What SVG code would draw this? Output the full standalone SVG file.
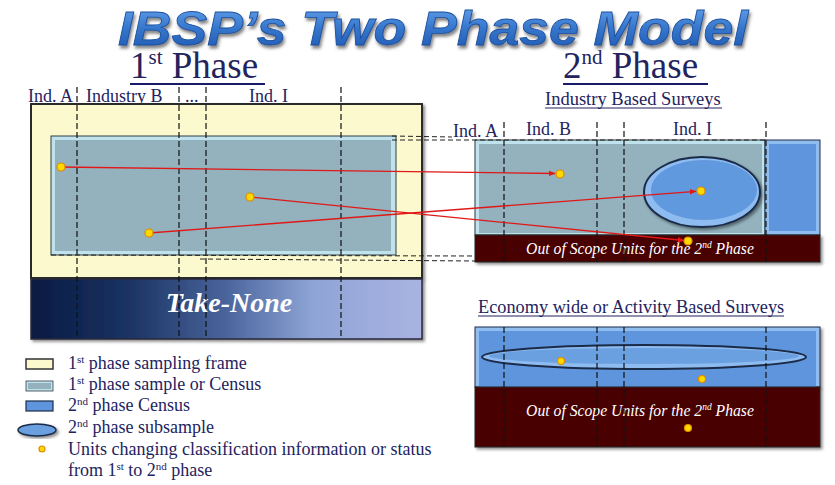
<svg xmlns="http://www.w3.org/2000/svg" width="835" height="485" viewBox="0 0 835 485">
<defs>
<linearGradient id="tg" x1="0" y1="0" x2="0" y2="1">
<stop offset="0" stop-color="#6aa6ee"/>
<stop offset="0.5" stop-color="#3576cc"/>
<stop offset="1" stop-color="#1d56ae"/>
</linearGradient>
<linearGradient id="tn" x1="0" y1="0" x2="1" y2="0">
<stop offset="0" stop-color="#071a42"/>
<stop offset="0.25" stop-color="#1b3363"/>
<stop offset="0.5" stop-color="#4a659c"/>
<stop offset="0.72" stop-color="#8ea4d6"/>
<stop offset="1" stop-color="#a9b3e2"/>
</linearGradient>
<filter id="sh" x="-10%" y="-10%" width="130%" height="130%">
<feDropShadow dx="2" dy="2" stdDeviation="1.5" flood-color="#000" flood-opacity="0.45"/>
</filter>
<filter id="tsh" x="-5%" y="-10%" width="110%" height="140%">
<feDropShadow dx="1.5" dy="3" stdDeviation="1.5" flood-color="#333" flood-opacity="0.6"/>
</filter>
<marker id="ah" viewBox="0 0 10 10" refX="9" refY="5" markerWidth="7" markerHeight="7" orient="auto" markerUnits="userSpaceOnUse">
<path d="M0,1 L10,5 L0,9 z" fill="#e01818"/>
</marker>
<style>
.lbl{font-family:"Liberation Serif","Times New Roman",serif;fill:#23235e;}
.oos{font-family:"Liberation Serif","Times New Roman",serif;font-style:italic;fill:#ffffff;}
.vd{stroke:#111;stroke-width:1.2;stroke-dasharray:6 3;fill:none;}
.hd{stroke:#222;stroke-width:1;stroke-dasharray:5 3;fill:none;}
.dot{fill:#ffd800;stroke:#e08a00;stroke-width:1.2;}
.arr{stroke:#e01818;stroke-width:1.3;fill:none;marker-end:url(#ah);}
.gb-o{fill:#bfe2ec;stroke:#2e3e44;stroke-width:1;}
.gb-i{fill:#93b2bd;}
.bl-o{fill:#90bdf0;stroke:#1e2e4a;stroke-width:1;}
.bl-i{fill:#5e95dc;}
.mar{fill:#4a0202;stroke:#222;stroke-width:1;}
</style>
</defs>
<rect width="835" height="485" fill="#ffffff"/>

<g id="title">
<text x="433" y="45" text-anchor="middle" font-family="Liberation Sans, Arial, sans-serif" font-weight="bold" font-style="italic" font-size="48" textLength="630" lengthAdjust="spacingAndGlyphs" fill="url(#tg)" stroke="#1b4f9e" stroke-width="0.8" filter="url(#tsh)">IBSP’s Two Phase Model</text>
</g>

<g id="phase1-heading">
<text class="lbl" x="130" y="78" font-size="37">1<tspan font-size="21" dy="-14">st</tspan><tspan dy="14"> Phase</tspan></text>
<line x1="130" y1="84" x2="265" y2="84" stroke="#1a1a6a" stroke-width="2"/>
</g>
<g id="phase2-heading">
<text class="lbl" x="563" y="78" font-size="37">2<tspan font-size="21" dy="-14">nd</tspan><tspan dy="14"> Phase</tspan></text>
<line x1="563" y1="84" x2="708" y2="84" stroke="#1a1a6a" stroke-width="2"/>
</g>

<g id="left-industry-labels" class="lbl" font-size="18">
<text x="28" y="102">Ind. A</text>
<text x="86" y="102">Industry B</text>
<text x="185" y="102">...</text>
<text x="249" y="102">Ind. I</text>
</g>

<g id="sampling-frame">
<rect x="31" y="104" width="391" height="174" fill="#fbf9cd" stroke="#2a2a2a" stroke-width="2" filter="url(#sh)"/>
</g>
<g id="take-none">
<rect x="31" y="279" width="391" height="60" fill="url(#tn)" stroke="#2a2a3a" stroke-width="1.5" filter="url(#sh)"/>
<text x="229" y="312" text-anchor="middle" font-family="Liberation Serif, Times New Roman, serif" font-weight="bold" font-style="italic" font-size="28" fill="#ffffff">Take-None</text>
</g>
<g id="phase1-sample">
<rect class="gb-o" x="51" y="136" width="345" height="119"/>
<rect class="gb-i" x="55" y="140" width="336" height="111"/>
</g>

<g id="industry-based">
<rect class="gb-o" x="475" y="140" width="290" height="95" filter="url(#sh)"/>
<rect class="gb-i" x="479" y="144" width="283" height="89"/>
<rect class="bl-o" x="765" y="140" width="55" height="95"/>
<rect class="bl-i" x="769" y="144" width="47" height="87"/>
<ellipse cx="702" cy="192" rx="58" ry="35" fill="#8fbcf0" stroke="#1b2b48" stroke-width="2" filter="url(#sh)"/>
<ellipse cx="704" cy="190" rx="53" ry="30" fill="#6199de"/>
<rect class="mar" x="475" y="235" width="345" height="27" filter="url(#sh)"/>
<text class="oos" x="640" y="254" text-anchor="middle" font-size="15.7">Out of Scope Units for the 2<tspan font-size="9.5" dy="-6">nd</tspan><tspan dy="6"> Phase</tspan></text>
</g>
<g id="industry-based-heading">
<text class="lbl" x="545" y="105" font-size="18.5">Industry Based Surveys</text>
<line x1="545" y1="108" x2="722" y2="108" stroke="#23235e" stroke-width="1"/>
</g>
<g id="right-industry-labels" class="lbl" font-size="18">
<text x="453" y="137">Ind. A</text>
<text x="526" y="135">Ind. B</text>
<text x="673" y="135">Ind. I</text>
</g>

<g id="activity-based">
<rect class="bl-o" x="475" y="327" width="345" height="60" filter="url(#sh)"/>
<rect class="bl-i" x="479" y="331" width="337" height="56"/>
<ellipse cx="644" cy="357" rx="162" ry="12" fill="#8fbcf0" stroke="#1b2b48" stroke-width="2"/>
<ellipse cx="644" cy="356" rx="155" ry="8" fill="#6a9fe0"/>
<rect class="mar" x="475" y="387" width="345" height="60" filter="url(#sh)"/>
<text class="oos" x="640" y="416" text-anchor="middle" font-size="15.7">Out of Scope Units for the 2<tspan font-size="9.5" dy="-6">nd</tspan><tspan dy="6"> Phase</tspan></text>
</g>
<g id="activity-based-heading">
<text class="lbl" x="478" y="313" font-size="18.3">Economy wide or Activity Based Surveys</text>
<line x1="478" y1="316" x2="784" y2="316" stroke="#23235e" stroke-width="1"/>
</g>

<g id="connectors">
<line class="vd" x1="77" y1="87" x2="77" y2="339"/>
<line class="vd" x1="179" y1="87" x2="179" y2="339"/>
<line class="vd" x1="206" y1="87" x2="206" y2="339"/>
<line class="vd" x1="341" y1="87" x2="341" y2="339"/>
<line class="vd" x1="504" y1="122" x2="504" y2="262"/>
<line class="vd" x1="597" y1="122" x2="597" y2="262"/>
<line class="vd" x1="624" y1="122" x2="624" y2="262"/>
<line class="vd" x1="766" y1="122" x2="766" y2="262"/>
<line class="vd" x1="504" y1="327" x2="504" y2="447"/>
<line class="vd" x1="597" y1="327" x2="597" y2="447"/>
<line class="vd" x1="624" y1="327" x2="624" y2="447"/>
<line class="vd" x1="766" y1="327" x2="766" y2="447"/>
<line class="hd" x1="392" y1="136" x2="452" y2="137"/>
<line class="hd" x1="392" y1="140" x2="765" y2="140"/>
<line class="hd" x1="51" y1="255" x2="475" y2="256"/>
<line class="hd" x1="200" y1="259" x2="475" y2="261"/>
<line class="arr" x1="61" y1="167" x2="555" y2="173.5"/>
<line class="arr" x1="250" y1="197" x2="684" y2="240.5"/>
<line class="arr" x1="149" y1="233" x2="696" y2="191.3"/>
</g>

<g id="units">
<circle class="dot" cx="61" cy="167" r="4"/>
<circle class="dot" cx="250" cy="197" r="4"/>
<circle class="dot" cx="149" cy="233" r="4"/>
<circle class="dot" cx="560" cy="174" r="4"/>
<circle class="dot" cx="701" cy="191" r="4"/>
<circle class="dot" cx="688" cy="241" r="4"/>
<circle class="dot" cx="561" cy="361" r="3.5"/>
<circle class="dot" cx="702" cy="379" r="3.5"/>
<circle class="dot" cx="688" cy="428" r="3.5"/>
</g>

<g id="legend">
<rect x="26" y="359" width="27" height="10" fill="#fbf9cd" stroke="#333" stroke-width="1.5"/>
<text class="lbl" x="68" y="369" font-size="18">1<tspan font-size="11" dy="-6">st</tspan><tspan dy="6"> phase sampling frame</tspan></text>
<rect x="26" y="381" width="27" height="10" fill="#bfe2ec" stroke="#2e3e44" stroke-width="0.8"/>
<rect x="28" y="383" width="23" height="6" fill="#93b2bd"/>
<text class="lbl" x="68" y="390" font-size="18">1<tspan font-size="11" dy="-6">st</tspan><tspan dy="6"> phase sample or Census</tspan></text>
<rect x="26" y="401" width="27" height="10" fill="#5e95dc" stroke="#1e2e4a" stroke-width="1.2"/>
<text class="lbl" x="68" y="411" font-size="18">2<tspan font-size="11" dy="-6">nd</tspan><tspan dy="6"> phase Census</tspan></text>
<ellipse cx="37" cy="430" rx="19" ry="6" fill="#6a9fe0" stroke="#1b2b48" stroke-width="1.5" filter="url(#sh)"/>
<text class="lbl" x="68" y="433" font-size="18">2<tspan font-size="11" dy="-6">nd</tspan><tspan dy="6"> phase subsample</tspan></text>
<circle class="dot" cx="42" cy="449" r="3"/>
<text class="lbl" x="68" y="455" font-size="18">Units changing classification information or status</text>
<text class="lbl" x="68" y="476" font-size="18">from 1<tspan font-size="11" dy="-6">st</tspan><tspan dy="6"> to 2</tspan><tspan font-size="11" dy="-6">nd</tspan><tspan dy="6"> phase</tspan></text>
</g>
</svg>
